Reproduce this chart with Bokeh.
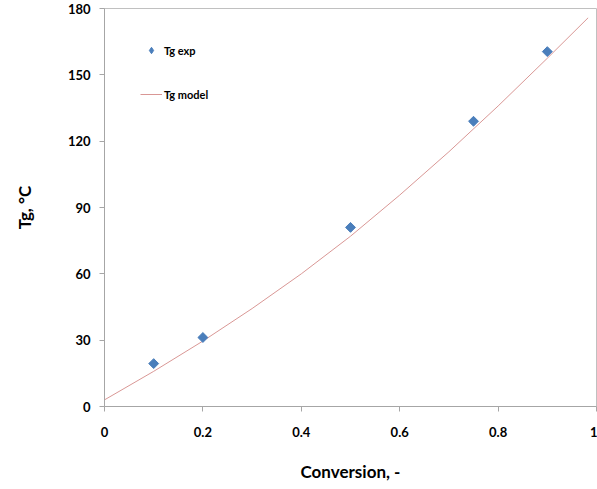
import math
from bokeh.plotting import figure
from bokeh.models import ColumnDataSource, Legend, LegendItem, FixedTicker, CustomJSTickFormatter
from bokeh.embed import file_html
from bokeh.resources import INLINE

# experimental data
conv_exp = [0.1, 0.2, 0.5, 0.75, 0.9]
tg_exp = [19.4, 31.2, 81.0, 129.0, 160.5]

# model curve
conv_model = [0.0, 0.1, 0.2, 0.3, 0.4, 0.5, 0.6, 0.7, 0.8, 0.9, 0.983]
tg_model = [3.0, 15.9, 29.6, 44.3, 60.0, 77.0, 95.6, 115.2, 135.9, 157.5, 175.8]

x_ticks = [0, 0.2, 0.4, 0.6, 0.8, 1.0]
y_ticks = [0, 30, 60, 90, 120, 150, 180]

FONT = "Lato"
BLUE = "#4A7EBB"

p = figure(output_backend="svg", toolbar_location=None,
           frame_width=492, frame_height=398,
           min_border_left=104, min_border_right=1, min_border_top=8, min_border_bottom=83,
           x_range=(0, 1), y_range=(0, 180), background_fill_color="white",
           border_fill_color="white")

p.grid.visible = False
p.outline_line_color = "#c0c0c0"
p.outline_line_width = 1

for ax in (p.xaxis[0], p.yaxis[0]):
    ax.axis_line_color = "#a6a6a6"
    ax.major_tick_line_color = "#a6a6a6"
    ax.minor_tick_line_color = None
    ax.major_tick_in = 0
    ax.major_tick_out = 5
    ax.major_label_text_font = FONT
    ax.major_label_text_font_style = "bold"
    ax.major_label_text_font_size = "13px"
    ax.major_label_text_color = "black"
    ax.axis_label_text_font = FONT
    ax.axis_label_text_font_style = "bold"
    ax.axis_label_text_font_size = "17px"
    ax.axis_label_text_color = "black"

p.xaxis.ticker = FixedTicker(ticks=x_ticks)
p.yaxis.ticker = FixedTicker(ticks=y_ticks)
p.xaxis.formatter = CustomJSTickFormatter(code="return tick.toString();")
p.xaxis.major_label_standoff = 15
p.yaxis.major_label_standoff = 9
p.xaxis.axis_label = "Conversion, -"
p.yaxis.axis_label = "Tg, °C"
p.xaxis.axis_label_standoff = 21
p.yaxis.axis_label_standoff = 30

src_exp = ColumnDataSource(dict(x=conv_exp, y=tg_exp))
src_mod = ColumnDataSource(dict(x=conv_model, y=tg_model))

r_line = p.line("x", "y", source=src_mod, line_color="#D99795", line_width=1)
r_pts = p.scatter("x", "y", source=src_exp, marker="square", size=7, angle=math.pi / 4,
                  fill_color=BLUE, line_color=BLUE)

# hidden twin renderer so the legend shows a diamond symbol
r_leg = p.scatter("x", "y", source=src_exp, marker="diamond", size=10,
                  fill_color=BLUE, line_color=BLUE, visible=False)

legend = Legend(items=[LegendItem(label="Tg exp", renderers=[r_leg]),
                       LegendItem(label="Tg model", renderers=[r_line])],
                location=(36, 304), orientation="vertical",
                border_line_color=None, background_fill_alpha=0,
                padding=0, margin=0, spacing=28,
                glyph_width=22, glyph_height=16, label_height=16,
                label_standoff=2, inactive_fill_alpha=0,
                label_text_font=FONT, label_text_font_style="bold",
                label_text_font_size="11px", label_text_color="black")
p.add_layout(legend)

open("out.html", "w").write(file_html(p, INLINE))
